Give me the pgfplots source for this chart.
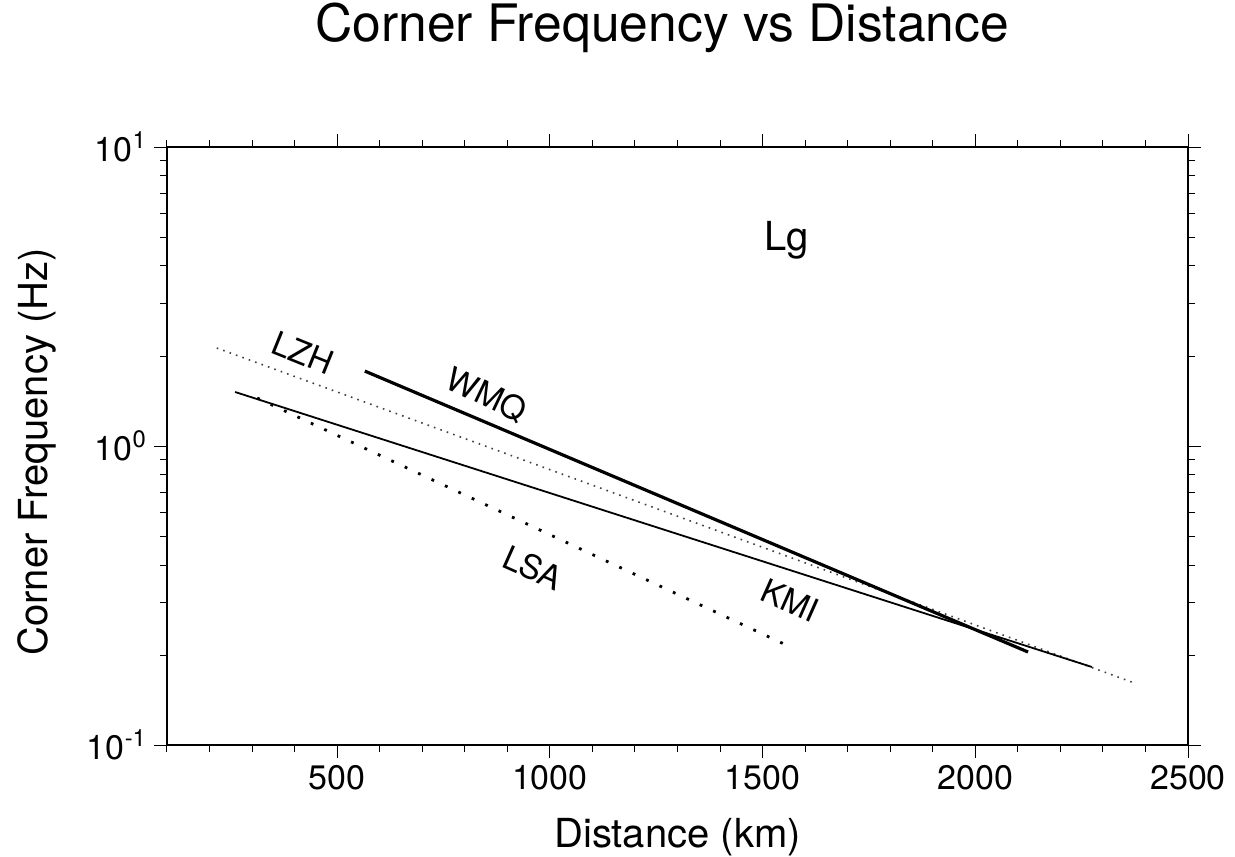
\documentclass[border=0pt]{standalone}
\usepackage{fontspec}
\setmainfont{TeX Gyre Heros}
\usepackage{pgfplots}
\pgfplotsset{compat=1.18}
\begin{document}
\begin{tikzpicture}
\begin{axis}[
  scale only axis,
  width=510.5pt, height=299pt,
  xmin=100, xmax=2500,
  ymode=log, ymin=0.1, ymax=10,
  xtick={500,1000,...,2500},
  minor xtick={100,200,...,2400},
  ytick={0.1,1,10},
  yticklabels={10\textsuperscript{-1},10\textsuperscript{0},10\textsuperscript{1}},
  tick align=outside,
  major tick length=6.5pt, minor tick length=3.5pt,
  tick style={black, line width=0.5pt},
  axis line style={line width=1.3pt},
  /pgf/number format/1000 sep={},
  /pgf/number format/assume math mode=true,
  xticklabel style={font=\fontsize{17}{20}\selectfont},
  yticklabel style={font=\fontsize{17}{20}\selectfont},
  title={Corner Frequency vs Distance},
  title style={at={(axis description cs:0.485,1.157)}, anchor=base, font=\fontsize{25.8}{30}\selectfont},
  xlabel={Distance (km)},
  xlabel style={at={(axis description cs:0.5,-0.172)}, anchor=base, font=\fontsize{20}{24}\selectfont},
  ylabel={Corner Frequency (Hz)},
  ylabel style={at={(axis description cs:-0.1166,0.49)}, anchor=base, font=\fontsize{20}{24}\selectfont},
]
% LZH
\addplot[black!75, line width=0.8pt, dash pattern=on 0.8pt off 2.6pt] coordinates {(217,2.127) (2375,0.161)};
% WMQ
\addplot[black, line width=1.6pt] coordinates {(565,1.781) (2124,0.2047)};
% KMI
\addplot[black, line width=0.9pt] coordinates {(260,1.516) (2274,0.1824)};
% LSA
\addplot[black, line width=1.4pt, dash pattern=on 1.4pt off 6pt] coordinates {(312,1.447) (1571,0.211)};

\node[font=\fontsize{16.5}{20}\selectfont, rotate=-22] at (axis cs:420,2.05) {LZH};
\node[font=\fontsize{16.5}{20}\selectfont, rotate=-25.5] at (axis cs:852,1.48) {WMQ};
\node[font=\fontsize{16.5}{20}\selectfont, rotate=-24] at (axis cs:960,0.391) {LSA};
\node[font=\fontsize{16.5}{20}\selectfont, rotate=-24] at (axis cs:1564,0.305) {KMI};
\node[font=\fontsize{20}{24}\selectfont] at (axis cs:1557,4.89) {Lg};
\end{axis}
\pgfresetboundingbox
\path ([shift={(-83.5pt,-55.5pt)}]current axis.south west) rectangle ([shift={(23.5pt,73.5pt)}]current axis.north east);
\end{tikzpicture}
\end{document}
